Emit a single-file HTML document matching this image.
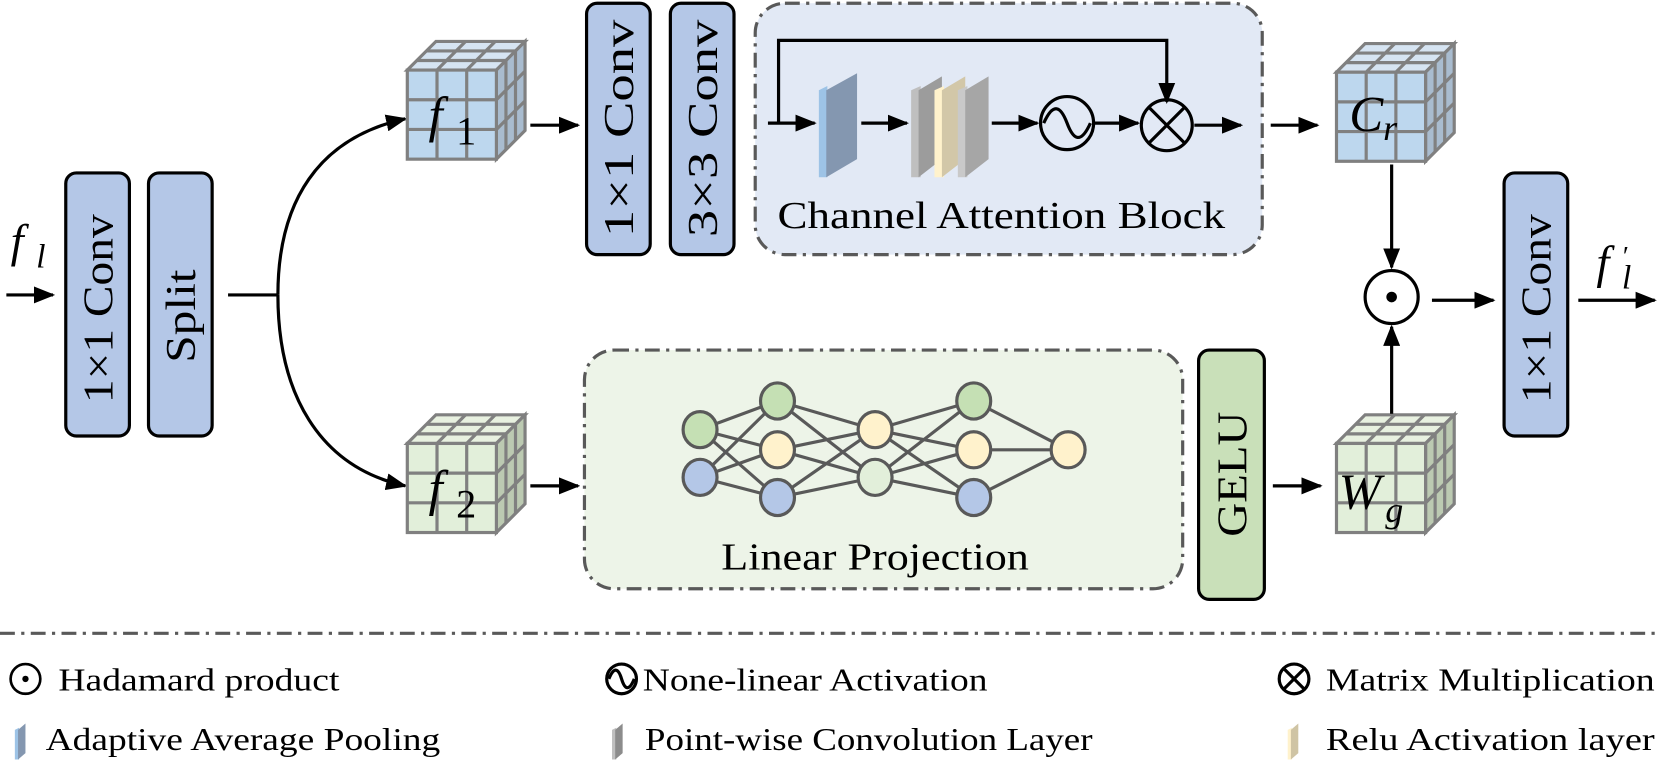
<!DOCTYPE html>
<html><head><meta charset="utf-8"><style>
html,body{margin:0;padding:0;background:#fff;}
svg{display:block;}
text{font-family:"Liberation Serif","DejaVu Serif","Times New Roman",serif;fill:#000;}
</style></head><body>
<svg width="1660" height="767" viewBox="0 0 1565 723" xmlns="http://www.w3.org/2000/svg" font-family="Liberation Serif, DejaVu Serif, serif">
<defs>
<marker id="ah" markerWidth="20" markerHeight="16" refX="18" refY="8" orient="auto" markerUnits="userSpaceOnUse">
<path d="M0,0 L20,8 L0,16 Z" fill="#000"/></marker>
<g id="cubeB" stroke="#808080" stroke-width="3" fill="none">
<polygon points="0,0 27,-27 111,-27 84,0" fill="#d6e4f2"/>
<polygon points="84,0 111,-27 111,57 84,84" fill="#a9bccf"/>
<rect x="0" y="0" width="84" height="84" fill="#bdd7ee"/>
<path d="M28,0V84M56,0V84M0,28H84M0,56H84M28,0L55,-27M56,0L83,-27M9,-9H93M18,-18H102M93,-9V75M102,-18V66M84,28L111,1M84,56L111,29"/>
</g>
<g id="cubeG" stroke="#808080" stroke-width="3" fill="none">
<polygon points="0,0 27,-27 111,-27 84,0" fill="#e8f1e0"/>
<polygon points="84,0 111,-27 111,57 84,84" fill="#bccab2"/>
<rect x="0" y="0" width="84" height="84" fill="#e2efda"/>
<path d="M28,0V84M56,0V84M0,28H84M0,56H84M28,0L55,-27M56,0L83,-27M9,-9H93M18,-18H102M93,-9V75M102,-18V66M84,28L111,1M84,56L111,29"/>
</g>
</defs>

<!-- input -->
<text x="10" y="242" font-size="44" font-style="italic">f</text>
<text x="34" y="252" font-size="32" font-style="italic">l</text>
<line x1="6" y1="278" x2="50" y2="278" stroke="#000" stroke-width="3" marker-end="url(#ah)"/>

<rect x="62" y="163" width="60" height="248" rx="10" fill="#b4c7e7" stroke="#000" stroke-width="3"/>
<text transform="translate(106,291) rotate(-90)" font-size="40" text-anchor="middle" textLength="178" lengthAdjust="spacingAndGlyphs">1×1 Conv</text>
<rect x="140" y="163" width="60" height="248" rx="10" fill="#b4c7e7" stroke="#000" stroke-width="3"/>
<text transform="translate(184,298) rotate(-90)" font-size="40" text-anchor="middle" textLength="88" lengthAdjust="spacingAndGlyphs">Split</text>

<path d="M215,278 H262" stroke="#000" stroke-width="3" fill="none"/>
<path d="M262,278 C262,190 300,130 382,112" stroke="#000" stroke-width="3" fill="none" marker-end="url(#ah)"/>
<path d="M262,278 C262,370 300,440 382,458" stroke="#000" stroke-width="3" fill="none" marker-end="url(#ah)"/>

<!-- cubes -->
<use href="#cubeB" x="384" y="66"/>
<text x="404" y="124" font-size="48" font-style="italic">f</text><text x="430" y="136" font-size="38">1</text>
<use href="#cubeG" x="384" y="418"/>
<text x="404" y="476" font-size="48" font-style="italic">f</text><text x="430" y="488" font-size="38">2</text>
<use href="#cubeB" x="1260" y="68"/>
<text x="1272" y="124" font-size="48" font-style="italic">C</text><text x="1304" y="132" font-size="34" font-style="italic">r</text>
<use href="#cubeG" x="1260" y="418"/>
<text x="1262" y="480" font-size="48" font-style="italic">W</text><text x="1306" y="492" font-size="34" font-style="italic">g</text>

<line x1="500" y1="118" x2="545" y2="118" stroke="#000" stroke-width="3" marker-end="url(#ah)"/>
<line x1="500" y1="458" x2="545" y2="458" stroke="#000" stroke-width="3" marker-end="url(#ah)"/>

<rect x="553" y="3" width="60" height="237" rx="10" fill="#b4c7e7" stroke="#000" stroke-width="3"/>
<text transform="translate(597,121) rotate(-90)" font-size="40" text-anchor="middle" textLength="205" lengthAdjust="spacingAndGlyphs">1×1 Conv</text>
<rect x="632" y="3" width="60" height="237" rx="10" fill="#b4c7e7" stroke="#000" stroke-width="3"/>
<text transform="translate(676,121) rotate(-90)" font-size="40" text-anchor="middle" textLength="205" lengthAdjust="spacingAndGlyphs">3×3 Conv</text>

<!-- Channel attention block -->
<rect x="712" y="3" width="478" height="237" rx="28" fill="#e2e9f5" stroke="#595959" stroke-width="3" stroke-dasharray="14,6,3,6"/>
<path d="M734,116 V38 H1100 V96" stroke="#000" stroke-width="3" fill="none" marker-end="url(#ah)"/>
<line x1="724" y1="116" x2="768" y2="116" stroke="#000" stroke-width="3" marker-end="url(#ah)"/>
<polygon points="772,85 780,81 780,167 772,167" fill="#9dc3e6"/>
<polygon points="779,85 808,69 808,150 779,167" fill="#8497b0"/>
<line x1="812" y1="116" x2="855" y2="116" stroke="#000" stroke-width="3" marker-end="url(#ah)"/>
<polygon points="859,85 868,81 868,167 859,167" fill="#bfbfbf"/>
<polygon points="866,85 888,72 888,150 866,167" fill="#9c9c9c"/>
<polygon points="881,85 890,81 890,167 881,167" fill="#fff2cc"/>
<polygon points="888,85 910,72 910,150 888,167" fill="#d2c7a8"/>
<polygon points="903,85 912,81 912,167 903,167" fill="#c9c9c9"/>
<polygon points="910,85 932,72 932,150 910,167" fill="#a6a6a6"/>
<line x1="935" y1="116" x2="978" y2="116" stroke="#000" stroke-width="3" marker-end="url(#ah)"/>
<circle cx="1006" cy="116" r="25" fill="none" stroke="#000" stroke-width="3"/>
<path d="M984,116 C993,96 1000,100 1006,116 C1012,132 1019,136 1028,116" fill="none" stroke="#000" stroke-width="3"/>
<line x1="1031" y1="116" x2="1073" y2="116" stroke="#000" stroke-width="3" marker-end="url(#ah)"/>
<circle cx="1100" cy="118" r="24" fill="none" stroke="#000" stroke-width="3"/>
<path d="M1083,101 L1117,135 M1117,101 L1083,135" stroke="#000" stroke-width="3"/>
<line x1="1126" y1="118" x2="1170" y2="118" stroke="#000" stroke-width="3" marker-end="url(#ah)"/>
<text x="733" y="215" font-size="36" textLength="422" lengthAdjust="spacingAndGlyphs">Channel Attention Block</text>
<line x1="1198" y1="118" x2="1242" y2="118" stroke="#000" stroke-width="3" marker-end="url(#ah)"/>

<!-- Linear projection -->
<rect x="551" y="330" width="564" height="225" rx="28" fill="#edf4e8" stroke="#595959" stroke-width="3" stroke-dasharray="14,6,3,6"/>
<g stroke="#595959" stroke-width="3">
<path d="M660,405L733,378M660,405L733,424M660,405L733,469M660,450L733,378M660,450L733,424M660,450L733,469
M733,378L825,405M733,378L825,450M733,424L825,405M733,424L825,450M733,469L825,405M733,469L825,450
M825,405L918,378M825,405L918,424M825,405L918,469M825,450L918,378M825,450L918,424M825,450L918,469
M918,378L1007,424M918,424L1007,424M918,469L1007,424"/>
<ellipse cx="660" cy="405" rx="16" ry="17" fill="#c5e0b4"/>
<ellipse cx="660" cy="450" rx="16" ry="17" fill="#b4c7e7"/>
<ellipse cx="733" cy="378" rx="16" ry="17" fill="#c5e0b4"/>
<ellipse cx="733" cy="424" rx="16" ry="17" fill="#fff2cc"/>
<ellipse cx="733" cy="469" rx="16" ry="17" fill="#b4c7e7"/>
<ellipse cx="825" cy="405" rx="16" ry="17" fill="#fff2cc"/>
<ellipse cx="825" cy="450" rx="16" ry="17" fill="#e2efda"/>
<ellipse cx="918" cy="378" rx="16" ry="17" fill="#c5e0b4"/>
<ellipse cx="918" cy="424" rx="16" ry="17" fill="#fff2cc"/>
<ellipse cx="918" cy="469" rx="16" ry="17" fill="#b4c7e7"/>
<ellipse cx="1007" cy="424" rx="16" ry="17" fill="#fff2cc"/>
</g>
<text x="680" y="537" font-size="36" textLength="290" lengthAdjust="spacingAndGlyphs">Linear Projection</text>

<rect x="1130" y="330" width="62" height="235" rx="10" fill="#c9e0b9" stroke="#000" stroke-width="3"/>
<text transform="translate(1175,447) rotate(-90)" font-size="40" text-anchor="middle" textLength="118" lengthAdjust="spacingAndGlyphs">GELU</text>
<line x1="1200" y1="458" x2="1245" y2="458" stroke="#000" stroke-width="3" marker-end="url(#ah)"/>

<!-- hadamard -->
<line x1="1312" y1="155" x2="1312" y2="252" stroke="#000" stroke-width="3" marker-end="url(#ah)"/>
<line x1="1312" y1="390" x2="1312" y2="308" stroke="#000" stroke-width="3" marker-end="url(#ah)"/>
<circle cx="1312" cy="280" r="25" fill="none" stroke="#000" stroke-width="3"/>
<circle cx="1312" cy="280" r="5" fill="#000"/>
<line x1="1350" y1="283" x2="1408" y2="283" stroke="#000" stroke-width="3" marker-end="url(#ah)"/>

<rect x="1418" y="163" width="60" height="248" rx="10" fill="#b4c7e7" stroke="#000" stroke-width="3"/>
<text transform="translate(1462,291) rotate(-90)" font-size="40" text-anchor="middle" textLength="178" lengthAdjust="spacingAndGlyphs">1×1 Conv</text>
<line x1="1488" y1="283" x2="1560" y2="283" stroke="#000" stroke-width="3" marker-end="url(#ah)"/>
<text x="1505" y="262" font-size="44" font-style="italic">f</text>
<text x="1530" y="250" font-size="26">′</text>
<text x="1529" y="272" font-size="32" font-style="italic">l</text>

<!-- separator -->
<line x1="0" y1="597" x2="1565" y2="597" stroke="#595959" stroke-width="3" stroke-dasharray="14,6,3,6"/>

<!-- legend -->
<circle cx="24" cy="640" r="14" fill="none" stroke="#000" stroke-width="2.5"/>
<circle cx="24" cy="640" r="3" fill="#000"/>
<text x="55" y="651" font-size="30" textLength="265" lengthAdjust="spacingAndGlyphs">Hadamard product</text>
<circle cx="586" cy="640" r="14" fill="none" stroke="#000" stroke-width="3"/>
<path d="M574,640 C579,628 583,630 586,640 C589,650 593,652 598,640" fill="none" stroke="#000" stroke-width="3"/>
<text x="606" y="651" font-size="30" textLength="325" lengthAdjust="spacingAndGlyphs">None-linear Activation</text>
<circle cx="1220" cy="640" r="14" fill="none" stroke="#000" stroke-width="3"/>
<path d="M1210,630 L1230,650 M1230,630 L1210,650" stroke="#000" stroke-width="3"/>
<text x="1250" y="651" font-size="30" textLength="310" lengthAdjust="spacingAndGlyphs">Matrix Multiplication</text>

<polygon points="14,688 18,686 18,716 14,716" fill="#9dc3e6"/>
<polygon points="17,688 24,682 24,710 17,716" fill="#8497b0"/>
<text x="43" y="707" font-size="30" textLength="372" lengthAdjust="spacingAndGlyphs">Adaptive Average Pooling</text>
<polygon points="577,688 581,686 581,716 577,716" fill="#bfbfbf"/>
<polygon points="580,688 587,682 587,710 580,716" fill="#8c8c8c"/>
<text x="608" y="707" font-size="30" textLength="422" lengthAdjust="spacingAndGlyphs">Point-wise Convolution Layer</text>
<polygon points="1214,688 1218,686 1218,716 1214,716" fill="#fff2cc"/>
<polygon points="1217,688 1224,682 1224,710 1217,716" fill="#cfc4a4"/>
<text x="1250" y="707" font-size="30" textLength="310" lengthAdjust="spacingAndGlyphs">Relu Activation layer</text>
</svg>
</body></html>
